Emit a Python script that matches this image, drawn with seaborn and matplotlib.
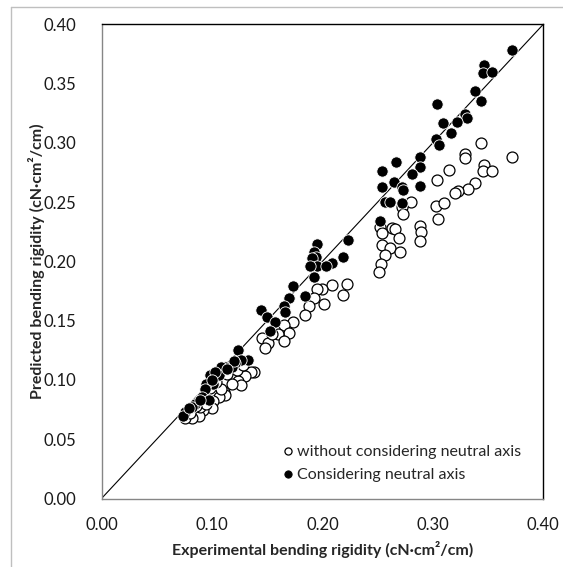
import pandas as pd
import seaborn as sns
import matplotlib.pyplot as plt
from matplotlib.lines import Line2D

# --------------------------- data ---------------------------
# without considering neutral axis (open circles)
x_without = [0.372, 0.344, 0.329, 0.329, 0.346, 0.345, 0.354, 0.315, 0.304, 0.338,
             0.332, 0.323, 0.320, 0.280, 0.303, 0.310, 0.305, 0.272, 0.273, 0.288,
             0.289, 0.288, 0.263, 0.266, 0.252, 0.254, 0.269, 0.254, 0.261, 0.270,
             0.257, 0.253, 0.251,
             0.209, 0.222, 0.219, 0.200, 0.195, 0.192, 0.201, 0.188, 0.184, 0.173,
             0.165, 0.170, 0.160, 0.165, 0.145, 0.151, 0.148, 0.154,
             0.138, 0.135, 0.130, 0.124, 0.126, 0.118, 0.111, 0.112, 0.106, 0.101,
             0.100, 0.092, 0.088, 0.082, 0.076, 0.123, 0.114, 0.108, 0.089, 0.095,
             0.117, 0.104, 0.098, 0.086, 0.080, 0.128]
y_without = [0.288, 0.300, 0.291, 0.287, 0.281, 0.276, 0.276, 0.277, 0.269, 0.266,
             0.261, 0.259, 0.258, 0.250, 0.247, 0.249, 0.236, 0.246, 0.240, 0.230,
             0.225, 0.217, 0.228, 0.227, 0.229, 0.224, 0.220, 0.214, 0.211, 0.208,
             0.205, 0.198, 0.191,
             0.180, 0.181, 0.172, 0.177, 0.177, 0.169, 0.164, 0.162, 0.155, 0.149,
             0.146, 0.140, 0.139, 0.133, 0.135, 0.131, 0.127, 0.139,
             0.107, 0.107, 0.103, 0.099, 0.096, 0.097, 0.090, 0.087, 0.086, 0.082,
             0.076, 0.075, 0.070, 0.068, 0.068, 0.108, 0.105, 0.092, 0.077, 0.080,
             0.112, 0.098, 0.093, 0.078, 0.072, 0.113]

# considering neutral axis (filled circles)
x_with = [0.372, 0.346, 0.345, 0.354, 0.338, 0.344, 0.304, 0.329, 0.331, 0.322,
          0.309, 0.316, 0.303, 0.306, 0.288, 0.288, 0.281, 0.267, 0.254, 0.265,
          0.254, 0.272, 0.273, 0.288, 0.257, 0.261, 0.272, 0.252,
          0.223, 0.219, 0.209, 0.195, 0.192, 0.194, 0.191, 0.195, 0.189, 0.203,
          0.192, 0.173, 0.170, 0.184, 0.165, 0.166, 0.144, 0.150, 0.157, 0.153,
          0.133, 0.124, 0.126, 0.121, 0.118, 0.112, 0.108, 0.106, 0.098, 0.101,
          0.095, 0.094, 0.091, 0.097, 0.085, 0.082, 0.076, 0.074, 0.089, 0.103,
          0.120, 0.114, 0.079, 0.100]
y_with = [0.378, 0.366, 0.359, 0.360, 0.344, 0.335, 0.333, 0.324, 0.321, 0.318,
          0.317, 0.308, 0.303, 0.298, 0.288, 0.280, 0.274, 0.284, 0.276, 0.267,
          0.263, 0.263, 0.260, 0.264, 0.250, 0.250, 0.249, 0.234,
          0.218, 0.204, 0.199, 0.215, 0.208, 0.204, 0.203, 0.196, 0.196, 0.196,
          0.187, 0.179, 0.169, 0.171, 0.162, 0.157, 0.159, 0.153, 0.149, 0.141,
          0.117, 0.125, 0.117, 0.114, 0.111, 0.111, 0.111, 0.104, 0.104, 0.097,
          0.097, 0.092, 0.086, 0.083, 0.080, 0.077, 0.073, 0.070, 0.083, 0.107,
          0.116, 0.109, 0.076, 0.100]

axis_lim = [0.0, 0.4]
x_ticks = [0.0, 0.1, 0.2, 0.3, 0.4]
y_ticks = [0.0, 0.05, 0.10, 0.15, 0.20, 0.25, 0.30, 0.35, 0.40]

label_without = "without considering neutral axis"
label_with = "Considering neutral axis"

# ------------------------------- plot ------------------------------------------
sns.set_style("white")
plt.rcParams['font.family'] = ['Lato', 'DejaVu Sans']

fig = plt.figure(figsize=(5.63, 5.67), dpi=100)
ax = fig.add_axes([0.1803, 0.1208, 0.7847, 0.8363])

# 1:1 reference line
ax.plot(axis_lim, axis_lim, color="black", lw=0.8, zorder=1)

df_without = pd.DataFrame({"x": x_without, "y": y_without})
df_with = pd.DataFrame({"x": x_with, "y": y_with})

sns.scatterplot(data=df_without, x="x", y="y", ax=ax, s=62, marker="o",
                facecolor="white", edgecolor="black", linewidth=0.9,
                label=label_without, zorder=2)
sns.scatterplot(data=df_with, x="x", y="y", ax=ax, s=66, marker="o",
                facecolor="black", edgecolor="white", linewidth=0.6,
                label=label_with, zorder=3)

ax.set_xlim(axis_lim)
ax.set_ylim(axis_lim)
ax.set_xticks(x_ticks)
ax.set_yticks(y_ticks)
ax.set_xticklabels([f"{t:.2f}" for t in x_ticks])
ax.set_yticklabels([f"{t:.2f}" for t in y_ticks])
ax.tick_params(length=0, labelsize=12, pad=13, colors="#1a1a1a")
ax.tick_params(axis="y", pad=18)

ax.set_xlabel("Experimental bending rigidity (cN·cm²/cm)", fontsize=11.5,
              fontweight="bold")
ax.set_ylabel("Predicted bending rigidity (cN·cm²/cm)", fontsize=11.5,
              fontweight="bold")
ax.xaxis.set_label_coords(0.5, -0.09)
ax.yaxis.set_label_coords(-0.128, 0.5)

for side in ["top", "right"]:
    ax.spines[side].set_color("black")
    ax.spines[side].set_linewidth(1.0)
for side in ["left", "bottom"]:
    ax.spines[side].set_color("#868686")
    ax.spines[side].set_linewidth(1.0)

leg = ax.legend(loc="lower left", bbox_to_anchor=(0.385, 0.012), frameon=False,
                fontsize=11.5, markerscale=0.65, handlelength=0.6,
                handletextpad=0.3, labelspacing=0.55, borderpad=0.2)
for h in leg.legend_handles:
    h.set_edgecolor("black")

# outer chart border (cropped Excel frame)
fig.add_artist(Line2D([11 / 563, 11 / 563], [0, 1 - 7 / 567],
                      color="#bfbfbf", lw=1.0))
fig.add_artist(Line2D([11 / 563, 1], [1 - 7 / 567, 1 - 7 / 567],
                      color="#bfbfbf", lw=1.0))

plt.savefig("out.png", dpi=100)
